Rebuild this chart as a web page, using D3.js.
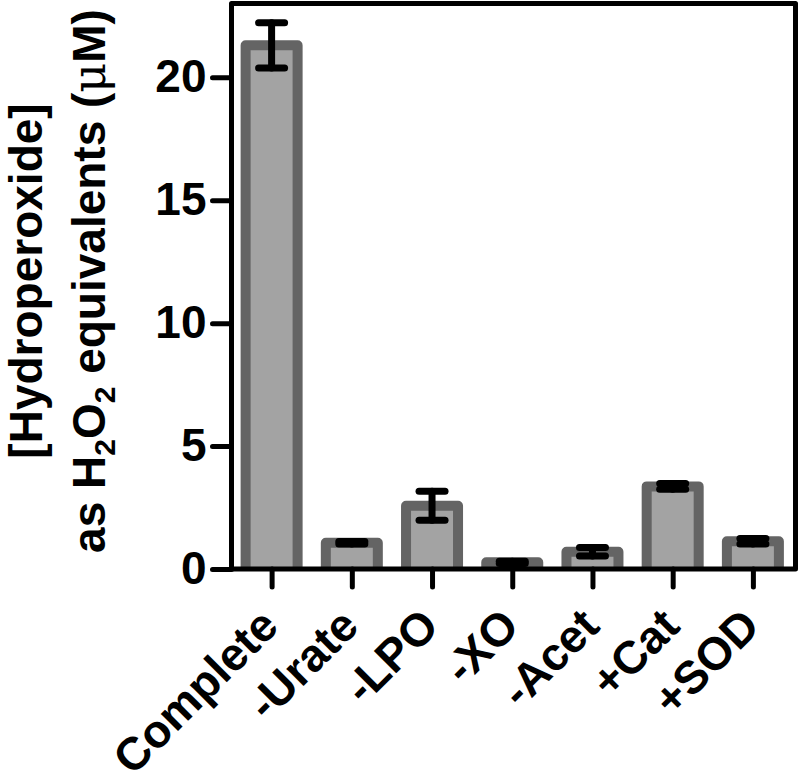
<!DOCTYPE html>
<meta charset="utf-8">
<title>Hydroperoxide</title>
<style>
body { margin: 0; background: #fff; }
svg { display: block; }
.axis text { font: bold 46px "Liberation Sans", Arial, sans-serif; fill: #000; }
.axis line { stroke: #000; stroke-width: 5; stroke-linecap: round; }
.title { font: bold 46px "Liberation Sans", Arial, sans-serif; fill: #000; }
</style>
<body>
<script src="https://d3js.org/d3.v7.min.js"></script>
<script>

var groups = ["Complete", "-Urate", "-LPO", "-XO", "-Acet", "+Cat", "+SOD"];
var means  = [21.3, 1.07, 2.57, 0.27, 0.70, 3.36, 1.13];
var sems   = [0.92, 0.05, 0.59, 0.05, 0.17, 0.12, 0.11];
var yTicks = [0, 5, 10, 15, 20];
var yMax = 23;

var data = groups.map(function(g, i) { return {name: g, mean: means[i], sem: sems[i]}; });

var W = 800, H = 775;
var plotLeft = 231.5, plotRight = 795.5, plotTop = 3.5, plotBottom = 569;

var svg = d3.select("body").append("svg")
    .attr("width", W)
    .attr("height", H);

var x = d3.scalePoint()
    .domain(groups)
    .range([plotLeft, plotRight - 2.5])
    .padding(0.5);

var y = d3.scaleLinear()
    .domain([0, yMax])
    .range([plotBottom, plotTop]);

var barW = 52;

// bars: open at the bottom so the thick stroke stops at the axis
svg.selectAll(".bar")
    .data(data)
  .enter().append("path")
    .attr("class", "bar")
    .attr("d", function(d) {
      var x0 = x(d.name) - barW / 2, x1 = x(d.name) + barW / 2;
      return "M" + x0 + "," + y(0) + "V" + y(d.mean) + "H" + x1 + "V" + y(0);
    })
    .style("fill", "#a3a3a3")
    .style("stroke", "#646464")
    .style("stroke-width", 10)
    .style("stroke-linejoin", "round");

// error bars
var capW = 26;
var err = svg.selectAll(".err")
    .data(data)
  .enter().append("g")
    .attr("class", "err")
    .style("stroke", "#000")
    .style("stroke-width", 7)
    .style("stroke-linecap", "round");

err.append("line")
    .attr("x1", function(d) { return x(d.name); })
    .attr("x2", function(d) { return x(d.name); })
    .attr("y1", function(d) { return y(d.mean - d.sem); })
    .attr("y2", function(d) { return y(d.mean + d.sem); });

err.append("line")
    .attr("x1", function(d) { return x(d.name) - capW / 2; })
    .attr("x2", function(d) { return x(d.name) + capW / 2; })
    .attr("y1", function(d) { return y(d.mean + d.sem); })
    .attr("y2", function(d) { return y(d.mean + d.sem); });

err.append("line")
    .attr("x1", function(d) { return x(d.name) - capW / 2; })
    .attr("x2", function(d) { return x(d.name) + capW / 2; })
    .attr("y1", function(d) { return y(d.mean - d.sem); })
    .attr("y2", function(d) { return y(d.mean - d.sem); });

// frame
svg.append("rect")
    .attr("x", plotLeft)
    .attr("y", plotTop)
    .attr("width", plotRight - plotLeft)
    .attr("height", plotBottom - plotTop)
    .style("fill", "none")
    .style("stroke", "#000")
    .style("stroke-width", 5)
    .style("stroke-linejoin", "round");

svg.append("g")
    .attr("class", "y axis")
    .attr("transform", "translate(" + plotLeft + ",0)")
    .call(d3.axisLeft(y).tickValues(yTicks).tickSize(19).tickPadding(6))
    .call(function(g) { g.select(".domain").remove(); });

svg.append("g")
    .attr("class", "x axis")
    .attr("transform", "translate(0," + plotBottom + ")")
    .call(d3.axisBottom(x).tickSize(18))
    .call(function(g) { g.select(".domain").remove(); })
  .selectAll("text")
    .attr("transform", "rotate(-45)")
    .attr("x", -36)
    .attr("y", 32)
    .attr("dy", "0.35em")
    .style("text-anchor", "end");

// y title, two lines
var cy = 281;
svg.append("text")
    .attr("class", "title")
    .attr("transform", "translate(42," + cy + ") rotate(-90)")
    .style("text-anchor", "middle")
    .text("[Hydroperoxide]");

var t2 = svg.append("text")
    .attr("class", "title")
    .attr("transform", "translate(105," + cy + ") rotate(-90)")
    .style("text-anchor", "middle");
t2.append("tspan").text("as H");
t2.append("tspan").attr("dy", 10).style("font-size", "30px").text("2");
t2.append("tspan").attr("dy", -10).text("O");
t2.append("tspan").attr("dy", 10).style("font-size", "30px").text("2");
t2.append("tspan").attr("dy", -10).text(" equivalents (");
t2.append("tspan").style("font-weight", "normal").style("font-family", "'DejaVu Serif', serif").text("μ");
t2.append("tspan").text("M)");

</script>
</body>
